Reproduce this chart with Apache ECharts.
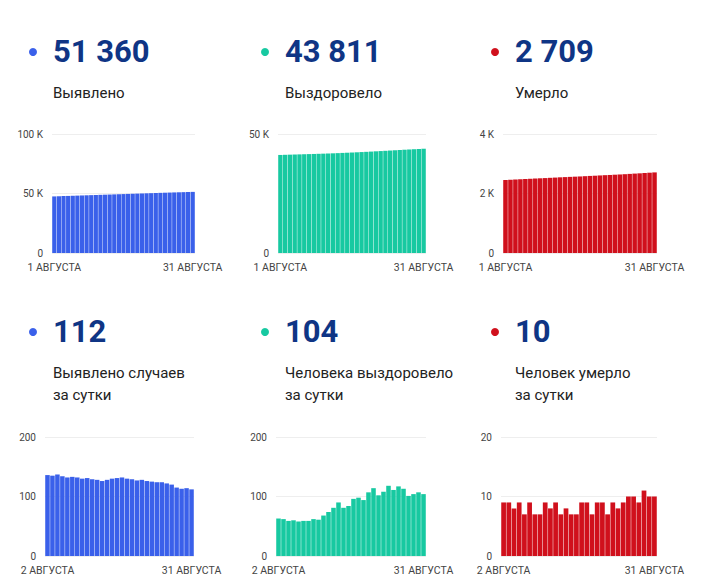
<!DOCTYPE html>
<html>
<head>
<meta charset="utf-8">
<script src="https://cdn.jsdelivr.net/npm/echarts@6/dist/echarts.min.js"></script>
<style>
  html, body { margin: 0; padding: 0; background: #fff; }
  #chart { width: 713px; height: 585px; }
</style>
</head>
<body>
<div id="chart"></div>
<script>
// cumulative totals, 1..31 August
var totalCases = [47547, 47683, 47818, 47955, 48089, 48221, 48354, 48486, 48616, 48747, 48876,
  49004, 49130, 49258, 49388, 49519, 49651, 49781, 49910, 50037, 50165, 50291, 50416, 50540,
  50664, 50786, 50906, 51021, 51134, 51248, 51360];
var totalRecovered = [41196, 41259, 41321, 41380, 41440, 41498, 41557, 41616, 41678, 41739, 41807,
  41881, 41962, 42052, 42133, 42217, 42313, 42411, 42505, 42612, 42726, 42828, 42936, 43054,
  43165, 43282, 43395, 43496, 43600, 43707, 43811];
var totalDeaths = [2453, 2462, 2471, 2479, 2488, 2495, 2504, 2511, 2518, 2527, 2535, 2544, 2551,
  2559, 2566, 2573, 2582, 2591, 2598, 2607, 2616, 2623, 2632, 2640, 2649, 2659, 2669, 2678,
  2689, 2699, 2709];

// daily values, 2..31 August
var dailyCases = [136, 135, 137, 134, 132, 133, 132, 130, 131, 129, 128, 126, 128, 130, 131,
  132, 130, 129, 127, 128, 126, 125, 124, 124, 122, 120, 115, 113, 114, 112];
var dailyRecovered = [63, 62, 59, 60, 58, 59, 59, 62, 61, 68, 74, 81, 90, 81, 84, 96, 98, 94,
  107, 114, 102, 108, 118, 111, 117, 113, 101, 104, 107, 104];
var dailyDeaths = [9, 9, 8, 9, 7, 9, 7, 7, 9, 8, 9, 7, 8, 7, 7, 9, 9, 7, 9, 9, 7, 9, 8, 9, 10,
  10, 9, 11, 10, 10];

var daysTotal = [];
for (var d = 1; d <= 31; d++) daysTotal.push(d + ' АВГУСТА');
var daysDaily = daysTotal.slice(1);

var headNumbers = ['51 360', '43 811', '2 709', '112', '104', '10'];
var headLabels = [
  ['Выявлено'], ['Выздоровело'], ['Умерло'],
  ['Выявлено случаев', 'за сутки'], ['Человека выздоровело', 'за сутки'], ['Человек умерло', 'за сутки']
];

var BLUE = '#3a60ea', TEAL = '#17c9a1', RED = '#d0101c', NAVY = '#0f3585';
var FONT = 'Roboto, "Noto Sans", sans-serif';

var chart = echarts.init(document.getElementById('chart'), null, { renderer: 'svg' });

var grids = [
  { left: 52, top: 134, width: 143, height: 119 },
  { left: 278, top: 134, width: 148, height: 119 },
  { left: 503, top: 134, width: 154, height: 119 },
  { left: 45, top: 437, width: 149, height: 119 },
  { left: 276, top: 437, width: 150, height: 119 },
  { left: 501, top: 437, width: 156, height: 119 }
];
var yMax = [100000, 50000, 4000, 200, 200, 20];
var yInt = [50000, 50000, 2000, 100, 100, 10];
var colors = [BLUE, TEAL, RED, BLUE, TEAL, RED];
var values = [totalCases, totalRecovered, totalDeaths, dailyCases, dailyRecovered, dailyDeaths];

var xAxes = [], yAxes = [], series = [];
for (var i = 0; i < 6; i++) {
  var cats = i < 3 ? daysTotal : daysDaily;
  xAxes.push({
    type: 'category', gridIndex: i, data: cats,
    axisLine: { show: false }, axisTick: { show: false },
    axisLabel: {
      interval: (function (n) { return function (idx) { return idx === 0 || idx === n - 1; }; })(cats.length),
      color: '#444', fontSize: 10.5, fontFamily: FONT, margin: 9
    }
  });
  yAxes.push({
    type: 'value', gridIndex: i, min: 0, max: yMax[i], interval: yInt[i],
    axisLabel: {
      color: '#444', fontSize: 10, fontFamily: FONT, margin: 9,
      formatter: i < 3 ? function (v) { return v === 0 ? '0' : (v / 1000) + ' K'; } : '{value}'
    },
    splitLine: { lineStyle: { color: '#eeeeee' } }
  });
  series.push({
    type: 'bar', xAxisIndex: i, yAxisIndex: i, data: values[i],
    barCategoryGap: '9%', itemStyle: { color: colors[i] }, silent: true
  });
}

var graphics = [];
var colX = [33, 265, 495];
var rowNumY = [51, 331];
var rowLabelY = [93, 373];
for (var k = 0; k < 6; k++) {
  var cx = colX[k % 3], r = Math.floor(k / 3);
  graphics.push({ type: 'circle', shape: { cx: cx, cy: rowNumY[r] + 1, r: 4 }, style: { fill: colors[k] } });
  graphics.push({
    type: 'text', x: cx + 20, y: rowNumY[r],
    style: { text: headNumbers[k], font: 'bold 31px ' + FONT, fill: NAVY, verticalAlign: 'middle' }
  });
  for (var l = 0; l < headLabels[k].length; l++) {
    graphics.push({
      type: 'text', x: cx + 20, y: rowLabelY[r] + l * 22,
      style: { text: headLabels[k][l], font: '15px ' + FONT, fill: '#222', verticalAlign: 'middle' }
    });
  }
}

chart.setOption({
  animation: false,
  grid: grids,
  xAxis: xAxes,
  yAxis: yAxes,
  series: series,
  graphic: graphics
});
</script>
</body>
</html>
